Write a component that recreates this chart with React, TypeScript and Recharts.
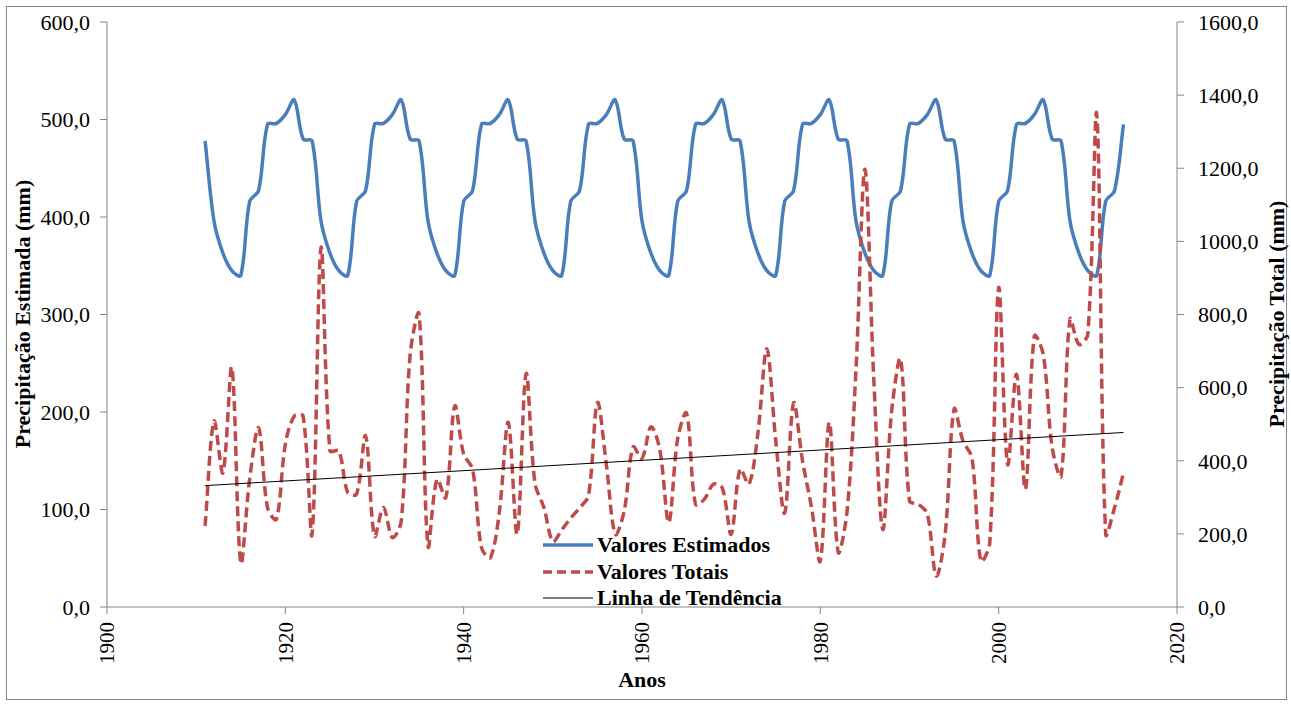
import { ComposedChart, Line, XAxis, YAxis } from 'recharts';

// Anos 1911..2014
const anos = Array.from({ length: 104 }, (_, i) => 1911 + i);

// Precipitação estimada (mm), eixo esquerdo
const estimados = [
  478, 396, 363, 345, 340, 416, 427, 495, 496, 505, 520, 480,
  478, 396, 363, 345, 340, 416, 427, 495, 496, 505, 520, 480,
  478, 396, 363, 345, 340, 416, 427, 495, 496, 505, 520, 480,
  478, 396, 363, 345, 340, 416, 427, 495, 496, 505, 520, 480,
  478, 396, 363, 345, 340, 416, 427, 495, 496, 505, 520, 480,
  478, 396, 363, 345, 340, 416, 427, 495, 496, 505, 520, 480,
  478, 396, 363, 345, 340, 416, 427, 495, 496, 505, 520, 480,
  478, 396, 363, 345, 340, 416, 427, 495, 496, 505, 520, 480,
  478, 396, 363, 345, 340, 416, 427, 495,
];

// Precipitação total (mm), eixo direito
const totais = [
  222, 508, 367, 655, 121, 350, 490, 272, 240, 445,
  522, 522, 199, 983, 427, 427, 313, 309, 468, 194,
  272, 190, 235, 691, 801, 167, 349, 299, 550, 418,
  377, 162, 135, 260, 505, 199, 638, 338, 272, 179,
  211, 243, 271, 305, 559, 390, 199, 262, 438, 407,
  493, 430, 231, 460, 530, 281, 295, 336, 326, 199,
  377, 336, 475, 706, 455, 257, 558, 400, 274, 126,
  505, 150, 262, 650, 1197, 620, 212, 536, 678, 290,
  281, 254, 85, 200, 541, 454, 408, 126, 175, 873,
  390, 636, 322, 741, 691, 436, 358, 787, 718, 746,
  1347, 199, 272, 367,
];

// Linha de tendência (eixo esquerdo): valores nas pontas
const tendenciaInicio = 124.5;
const tendenciaFim = 179;

const xTicks = [1900, 1920, 1940, 1960, 1980, 2000, 2020];
const leftTicks = [0, 100, 200, 300, 400, 500, 600];
const rightTicks = [0, 200, 400, 600, 800, 1000, 1200, 1400, 1600];

const data = anos.map((ano, i) => ({
  ano,
  estimado: estimados[i],
  total: totais[i],
  tendencia: i === 0 ? tendenciaInicio : i === anos.length - 1 ? tendenciaFim : null,
}));

const FONT = '"Liberation Serif", "Times New Roman", serif';
const AXIS = '#868686';
const BLUE = '#4A7EBB';
const RED = '#BE4B48';

const fmt = (v: number) => v.toFixed(1).replace('.', ',');

// Excel-like smoothing: tangent along (P2 - P0), arm length scaled by the chord of each segment
function excelCurve(context: any) {
  let pts: [number, number][] = [];
  const dist = (a: [number, number], b: [number, number]) => Math.hypot(a[0] - b[0], a[1] - b[1]);
  return {
    areaStart() {},
    areaEnd() {},
    lineStart() {
      pts = [];
    },
    lineEnd() {
      const n = pts.length;
      if (!n) return;
      context.moveTo(pts[0][0], pts[0][1]);
      for (let i = 0; i < n - 1; i++) {
        const p1 = pts[i];
        const p2 = pts[i + 1];
        const p0 = pts[i - 1] || p1;
        const p3 = pts[i + 2] || p2;
        const d01 = dist(p0, p1);
        const d12 = dist(p1, p2);
        const d23 = dist(p2, p3);
        const k1 = d12 / (3 * (d01 + d12) || 1);
        const k2 = d12 / (3 * (d12 + d23) || 1);
        context.bezierCurveTo(
          p1[0] + (p2[0] - p0[0]) * k1,
          p1[1] + (p2[1] - p0[1]) * k1,
          p2[0] - (p3[0] - p1[0]) * k2,
          p2[1] - (p3[1] - p1[1]) * k2,
          p2[0],
          p2[1]
        );
      }
    },
    point(x: number, y: number) {
      pts.push([+x, +y]);
    },
  };
}

function XTick({ x, y, payload }: any) {
  const ty = y + 6;
  return (
    <text
      x={x}
      y={ty}
      transform={`rotate(-90, ${x}, ${ty})`}
      textAnchor="end"
      dy="0.35em"
      fontSize={21}
      fontFamily={FONT}
      fill="#000"
    >
      {payload.value}
    </text>
  );
}

const title = (text: string, x: number, y: number, angle: number) => () => (
  <text
    x={x}
    y={y}
    transform={angle ? `rotate(${angle}, ${x}, ${y})` : undefined}
    textAnchor="middle"
    dominantBaseline="central"
    fontSize={22}
    fontWeight="bold"
    fontFamily={FONT}
    fill="#000"
  >
    {text}
  </text>
);

const legendItems = [
  { label: 'Valores Estimados', color: BLUE, width: 3.5, dash: undefined as string | undefined },
  { label: 'Valores Totais', color: RED, width: 3.5, dash: '9 5' },
  { label: 'Linha de Tendência', color: '#000', width: 1, dash: undefined },
];

export default function App() {
  return (
    <div style={{ position: 'absolute', left: 0, top: 0, width: 1291, height: 704, background: '#fff' }}>
      <div
        style={{
          position: 'absolute',
          left: 6,
          top: 6,
          width: 1279,
          height: 692,
          border: `1px solid ${AXIS}`,
        }}
      />
      <ComposedChart width={1291} height={704} data={data} margin={{ top: 22, right: 0, bottom: 0, left: 0 }}>
        <XAxis
          dataKey="ano"
          type="number"
          domain={[1900, 2020]}
          ticks={xTicks}
          interval={0}
          height={97}
          stroke={AXIS}
          tickSize={7}
          tick={<XTick />}
          label={{ content: title('Anos', 642, 679, 0) }}
        />
        <YAxis
          yAxisId="left"
          domain={[0, 600]}
          ticks={leftTicks}
          interval={0}
          width={107}
          stroke={AXIS}
          tickSize={7}
          tickMargin={10}
          tickFormatter={fmt}
          tick={{ fill: '#000', fontSize: 22, fontFamily: FONT }}
          label={{ content: title('Precipitação Estimada (mm)', 22, 314, -90) }}
        />
        <YAxis
          yAxisId="right"
          orientation="right"
          domain={[0, 1600]}
          ticks={rightTicks}
          interval={0}
          width={114}
          stroke={AXIS}
          tickSize={7}
          tickMargin={14}
          tickFormatter={fmt}
          tick={{ fill: '#000', fontSize: 22, fontFamily: FONT }}
          label={{ content: title('Precipitação Total (mm)', 1276, 314, -90) }}
        />
        <Line
          yAxisId="left"
          dataKey="estimado"
          type={excelCurve as any}
          stroke={BLUE}
          strokeWidth={3.5}
          dot={false}
          activeDot={false}
          isAnimationActive={false}
        />
        <Line
          yAxisId="right"
          dataKey="total"
          type={excelCurve as any}
          stroke={RED}
          strokeWidth={3.5}
          strokeDasharray="10 5"
          dot={false}
          activeDot={false}
          isAnimationActive={false}
        />
        <Line
          yAxisId="left"
          dataKey="tendencia"
          type="linear"
          connectNulls
          stroke="#000"
          strokeWidth={1}
          dot={false}
          activeDot={false}
          isAnimationActive={false}
        />
      </ComposedChart>
      <div style={{ position: 'absolute', left: 543, top: 532, fontFamily: FONT, fontWeight: 'bold', fontSize: 22 }}>
        {legendItems.map((it) => (
          <div key={it.label} style={{ display: 'flex', alignItems: 'center', height: 26.5, lineHeight: '26px' }}>
            <svg width={50} height={10} style={{ marginRight: 4 }}>
              <line x1={0} y1={5} x2={50} y2={5} stroke={it.color} strokeWidth={it.width} strokeDasharray={it.dash} />
            </svg>
            <span style={{ whiteSpace: 'nowrap' }}>{it.label}</span>
          </div>
        ))}
      </div>
    </div>
  );
}
